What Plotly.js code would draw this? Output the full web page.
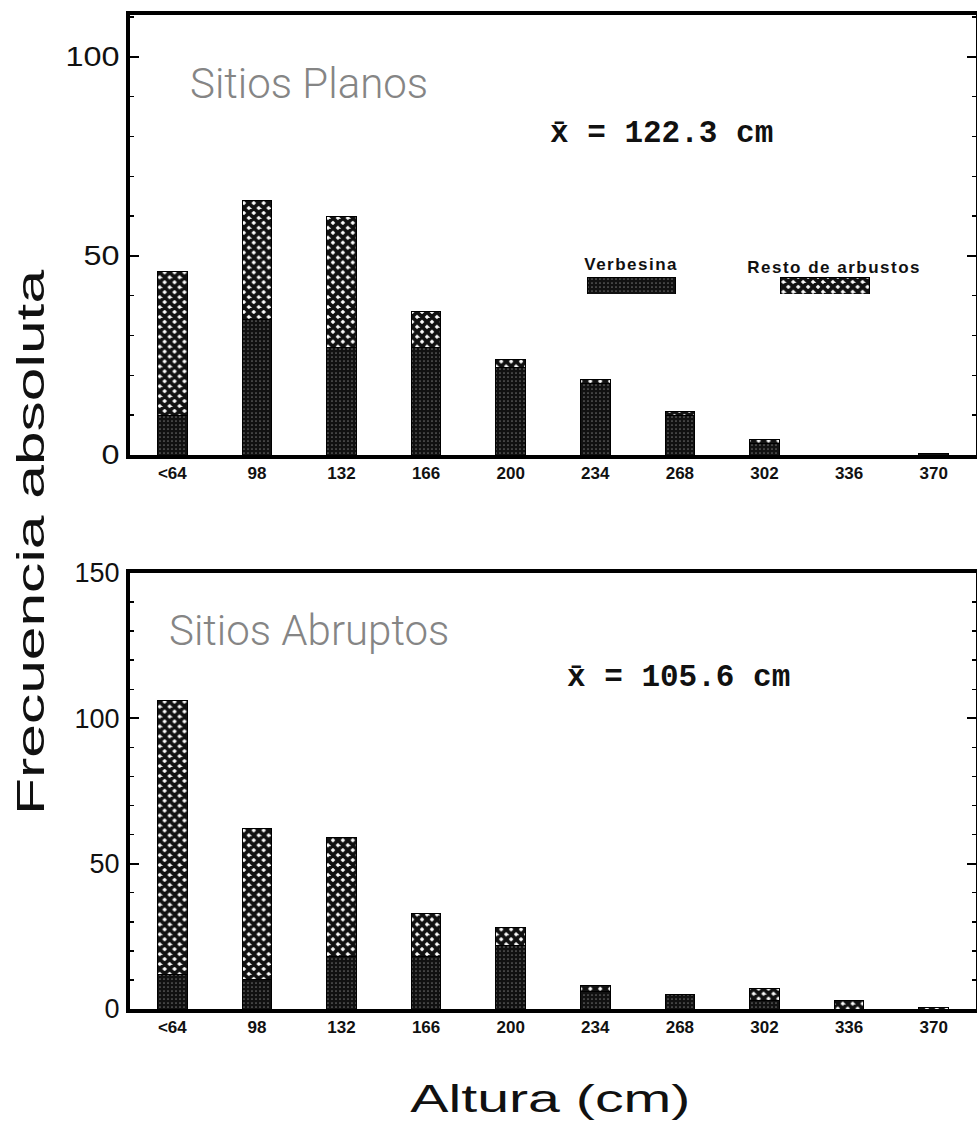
<!DOCTYPE html>
<html>
<head>
<meta charset="utf-8">
<script src="https://cdn.plot.ly/plotly-3.0.1.min.js"></script>
<style>
html,body{margin:0;padding:0;background:#fff;}
#chart{width:977px;height:1141px;}
</style>
</head>
<body>
<div id="chart"></div>
<script>
// ---- data ----
var categories = ["<64", "98", "132", "166", "200", "234", "268", "302", "336", "370"];
var planosVerbesina = [10, 34, 27, 27, 22, 18, 10, 3, 0, 0.5];
var planosResto     = [36, 30, 33, 9, 2, 1, 1, 1, 0, 0];
var abruptosVerbesina = [12, 10, 18, 18, 22, 6, 5, 3, 0, 0];
var abruptosResto     = [94, 52, 41, 15, 6, 2, 0, 4, 3, 0.5];
var seriesNames = ["Verbesina", "Resto de arbustos"];
var panelTitles = ["Sitios Planos", "Sitios Abruptos"];
var meanLabels = ["x\u0304 = 122.3 cm", "x\u0304 = 105.6 cm"];

// ---- styles ----
var W = 977, H = 1141;
var M = {l: 130, r: 1, t: 15, b: 132};
var PW = W - M.l - M.r, PH = H - M.t - M.b;
function px(x) { return (x - M.l) / PW; }
function py(y) { return (H - M.b - y) / PH; }

var verbMarker = {color: "#111", line: {color: "#000", width: 1},
  pattern: {shape: ".", bgcolor: "#111", fgcolor: "#6a6a6a", size: 4, solidity: 0.15, fillmode: "replace"}};
var restoMarker = {color: "#fff", line: {color: "#000", width: 1},
  pattern: {shape: "x", bgcolor: "#fff", fgcolor: "#111", size: 7, solidity: 0.78, fillmode: "replace"}};

var barW = 0.35;
var traces = [
  {type: "bar", x: categories, y: planosVerbesina, name: seriesNames[0], marker: verbMarker, width: barW, xaxis: "x", yaxis: "y", showlegend: false, hoverinfo: "skip"},
  {type: "bar", x: categories, y: planosResto, name: seriesNames[1], marker: restoMarker, width: barW, xaxis: "x", yaxis: "y", showlegend: false, hoverinfo: "skip"},
  {type: "bar", x: categories, y: abruptosVerbesina, name: seriesNames[0], marker: verbMarker, width: barW, xaxis: "x2", yaxis: "y2", showlegend: false, hoverinfo: "skip"},
  {type: "bar", x: categories, y: abruptosResto, name: seriesNames[1], marker: restoMarker, width: barW, xaxis: "x2", yaxis: "y2", showlegend: false, hoverinfo: "skip"},
  // legend swatches on an overlay axis (pixel-like scale)
  {type: "bar", orientation: "h", y: ["s"], x: [88], base: [587], width: 1, marker: verbMarker, xaxis: "x3", yaxis: "y3", showlegend: false, hoverinfo: "skip"},
  {type: "bar", orientation: "h", y: ["s"], x: [89], base: [780], width: 1, marker: restoMarker, xaxis: "x3", yaxis: "y3", showlegend: false, hoverinfo: "skip"}
];

var tickFontX = {family: "Liberation Sans, Arial, sans-serif", size: 17, color: "#111", weight: "bold"};
var tickFontY = {family: "Liberation Sans, Arial, sans-serif", size: 27, color: "#111"};

function xAxis(anchor) {
  return {anchor: anchor, domain: [0, 1], type: "category", range: [-0.5, 9.5], fixedrange: true,
    showline: true, linewidth: 4, linecolor: "#000", mirror: true, ticks: "", showgrid: false,
    tickfont: tickFontX, zeroline: false};
}
function yAxis(anchor, domain, range) {
  return {anchor: anchor, domain: domain, range: range, fixedrange: true,
    showline: true, linewidth: 4, linecolor: "#000", mirror: "ticks",
    ticks: "inside", ticklen: 9, tickwidth: 2, tickcolor: "#000", dtick: 50, tick0: 0,
    minor: {dtick: 10, ticks: "inside", ticklen: 4, tickwidth: 1.5, tickcolor: "#000", showgrid: false},
    showgrid: false, zeroline: false, tickfont: tickFontY, ticklabelstandoff: 1};
}

var topDomain = [py(455), py(15)];
var botDomain = [py(1009), py(573)];

var layout = {
  width: W, height: H, margin: M,
  paper_bgcolor: "#fff", plot_bgcolor: "rgba(0,0,0,0)",
  barmode: "stack", showlegend: false,
  xaxis: xAxis("y"),
  yaxis: yAxis("x", topDomain, [0, 110.5]),
  xaxis2: xAxis("y2"),
  yaxis2: yAxis("x2", botDomain, [0, 150]),
  xaxis3: {anchor: "y3", domain: [0, 1], range: [130, 976], visible: false, fixedrange: true},
  yaxis3: {anchor: "x3", domain: [py(294), py(277)], visible: false, type: "category", range: [-0.5, 0.5], fixedrange: true},
  annotations: [
    {text: panelTitles[0], xref: "paper", yref: "paper", x: px(188), y: py(84), xanchor: "left", yanchor: "middle", showarrow: false,
     font: {family: "Roboto, Liberation Sans, sans-serif", size: 42, color: "#858585", weight: 300}},
    {text: panelTitles[1], xref: "paper", yref: "paper", x: px(167), y: py(630), xanchor: "left", yanchor: "middle", showarrow: false,
     font: {family: "Roboto, Liberation Sans, sans-serif", size: 42, color: "#858585", weight: 300}},
    {text: meanLabels[0], xref: "paper", yref: "paper", x: px(548), y: py(134), xanchor: "left", yanchor: "middle", showarrow: false,
     font: {family: "Liberation Mono, DejaVu Sans Mono, monospace", size: 31, color: "#111", weight: "bold"}},
    {text: meanLabels[1], xref: "paper", yref: "paper", x: px(565), y: py(677), xanchor: "left", yanchor: "middle", showarrow: false,
     font: {family: "Liberation Mono, DejaVu Sans Mono, monospace", size: 31, color: "#111", weight: "bold"}},
    {text: seriesNames[0], xref: "paper", yref: "paper", x: px(631), y: py(264), xanchor: "center", yanchor: "middle", showarrow: false,
     font: {family: "Liberation Sans, Arial, sans-serif", size: 17, color: "#111", weight: "bold"}},
    {text: seriesNames[1], xref: "paper", yref: "paper", x: px(834), y: py(267), xanchor: "center", yanchor: "middle", showarrow: false,
     font: {family: "Liberation Sans, Arial, sans-serif", size: 17, color: "#111", weight: "bold"}},
    {text: "Frecuencia absoluta", xref: "paper", yref: "paper", x: px(30), y: py(542), xanchor: "center", yanchor: "middle", textangle: -90, showarrow: false,
     font: {family: "Liberation Sans, Arial, sans-serif", size: 39, color: "#111"}},
    {text: "Altura (cm)", xref: "paper", yref: "paper", x: px(550), y: py(1098), xanchor: "center", yanchor: "middle", showarrow: false,
     font: {family: "Liberation Sans, Arial, sans-serif", size: 39, color: "#111"}}
  ]
};

// text stretching (glyph widths) for the wide original typeface
var spacing = {4: "1.5px", 5: "1.5px"};
var stretch = {6: 545, 7: 280};

Plotly.newPlot("chart", traces, layout, {staticPlot: true, displayModeBar: false}).then(function (gd) {
  gd.querySelectorAll("g.annotation").forEach(function (g) {
    var idx = g.getAttribute("data-index");
    var t = g.querySelector("text");
    if (!t) return;
    if (spacing[idx]) t.style.letterSpacing = spacing[idx];
    if (stretch[idx]) {
      t.setAttribute("textLength", stretch[idx]);
      t.setAttribute("lengthAdjust", "spacingAndGlyphs");
    }
  });
  gd.querySelectorAll(".ytick text").forEach(function (t) {
    var n = t.textContent.length;
    t.setAttribute("textLength", n * 18);
    t.setAttribute("lengthAdjust", "spacingAndGlyphs");
  });
});
</script>
</body>
</html>
